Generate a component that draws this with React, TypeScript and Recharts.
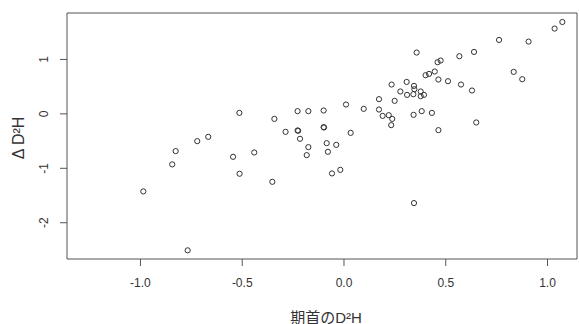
import { ScatterChart, Scatter, XAxis, YAxis, ReferenceArea, Label } from "recharts"

// 期首のD²H (x) と ΔD²H (y)
const initialD2H = [
    -0.986, -0.844, -0.827, -0.721, -0.768, -0.667, -0.514, -0.545, -0.441, -0.513,
    -0.342, -0.352, -0.287, -0.228, -0.175, -0.228, -0.225, -0.216, -0.175, -0.183,
    -0.1, -0.1, -0.098, -0.085, -0.079, -0.038, -0.059, -0.018, 0.01, 0.033,
    0.097, 0.172, 0.172, 0.19, 0.22, 0.237, 0.232, 0.234, 0.249, 0.277,
    0.308, 0.31, 0.344, 0.346, 0.341, 0.342, 0.377, 0.377, 0.393, 0.382,
    0.357, 0.401, 0.418, 0.446, 0.464, 0.46, 0.475, 0.432, 0.464, 0.511,
    0.567, 0.575, 0.629, 0.639, 0.65, 0.762, 0.834, 0.876, 0.907, 1.035,
    1.073, 0.344,
]
const deltaD2H = [
    -1.424, -0.928, -0.684, -0.501, -2.507, -0.422, 0.018, -0.789, -0.709, -1.1,
    -0.092, -1.248, -0.33, 0.05, 0.05, -0.305, -0.31, -0.458, -0.611, -0.758,
    0.062, -0.244, -0.25, -0.538, -0.697, -0.569, -1.094, -1.028, 0.172, -0.349,
    0.092, 0.27, 0.08, -0.037, -0.024, -0.092, -0.207, 0.539, 0.239, 0.411,
    0.587, 0.349, 0.514, 0.453, 0.361, -0.018, 0.411, 0.325, 0.349, 0.05,
    1.127, 0.71, 0.734, 0.778, 0.631, 0.949, 0.98, 0.018, -0.299, 0.6,
    1.059, 0.539, 0.429, 1.138, -0.158, 1.358, 0.771, 0.637, 1.328, 1.567,
    1.688, -1.639,
]
const xTicks = [-1, -0.5, 0, 0.5, 1]
const yTicks = [-2, -1, 0, 1]

const X_DOMAIN = [-1.361, 1.145]
const Y_DOMAIN = [-2.666, 1.853]

const points = initialD2H.map((x, i) => ({ x, y: deltaD2H[i] }))

const font = "'Liberation Sans', Arial, 'Noto Sans CJK JP', sans-serif"

function XTick({ x, y, payload }: any) {
    return (
        <text x={x} y={y + 19} textAnchor="middle" fontSize={12} fill="#333" fontFamily={font}>
            {payload.value.toFixed(1)}
        </text>
    )
}

function YTick({ x, y, payload }: any) {
    const cx = 44
    return (
        <text
            x={cx}
            y={y}
            transform={`rotate(-90, ${cx}, ${y})`}
            textAnchor="middle"
            dominantBaseline="central"
            fontSize={12}
            fill="#333"
            fontFamily={font}
        >
            {payload.value}
        </text>
    )
}

function XTitle({ viewBox }: any) {
    const cx = viewBox.x + viewBox.width / 2 + 4
    return (
        <text x={cx} y={317} textAnchor="middle" dominantBaseline="central" fontSize={15} fill="#333" fontFamily={font}>
            期首のD²H
        </text>
    )
}

function YTitle({ viewBox }: any) {
    const cy = viewBox.y + viewBox.height / 2 + 2
    const cx = 18
    return (
        <text
            x={cx}
            y={cy}
            transform={`rotate(-90, ${cx}, ${cy})`}
            textAnchor="middle"
            dominantBaseline="central"
            fontSize={16}
            fill="#333"
            fontFamily={font}
        >
            Δ D²H
        </text>
    )
}

function Dot({ cx, cy }: any) {
    return <circle cx={cx} cy={cy} r={2.6} fill="none" stroke="#333" strokeWidth={1} />
}

export default function App() {
    return (
        <div style={{ position: "fixed", left: 0, top: 0, width: 579, height: 324, background: "#fff" }}>
            <ScatterChart width={579} height={324} margin={{ top: 13, right: 2, bottom: 0, left: 0 }}>
                <XAxis
                    type="number"
                    dataKey="x"
                    domain={X_DOMAIN}
                    ticks={xTicks}
                    allowDataOverflow
                    axisLine={false}
                    tickLine={{ stroke: "#555" }}
                    tickSize={7}
                    tick={<XTick />}
                    height={65}
                >
                    <Label content={<XTitle />} />
                </XAxis>
                <YAxis
                    type="number"
                    dataKey="y"
                    domain={Y_DOMAIN}
                    ticks={yTicks}
                    allowDataOverflow
                    axisLine={false}
                    tickLine={{ stroke: "#555" }}
                    tickSize={7}
                    tick={<YTick />}
                    width={67}
                >
                    <Label content={<YTitle />} />
                </YAxis>
                <ReferenceArea
                    x1={X_DOMAIN[0]}
                    x2={X_DOMAIN[1]}
                    y1={Y_DOMAIN[0]}
                    y2={Y_DOMAIN[1]}
                    fill="none"
                    fillOpacity={0}
                    stroke="#555"
                    strokeWidth={1}
                />
                <Scatter data={points} shape={<Dot />} isAnimationActive={false} />
            </ScatterChart>
        </div>
    )
}
